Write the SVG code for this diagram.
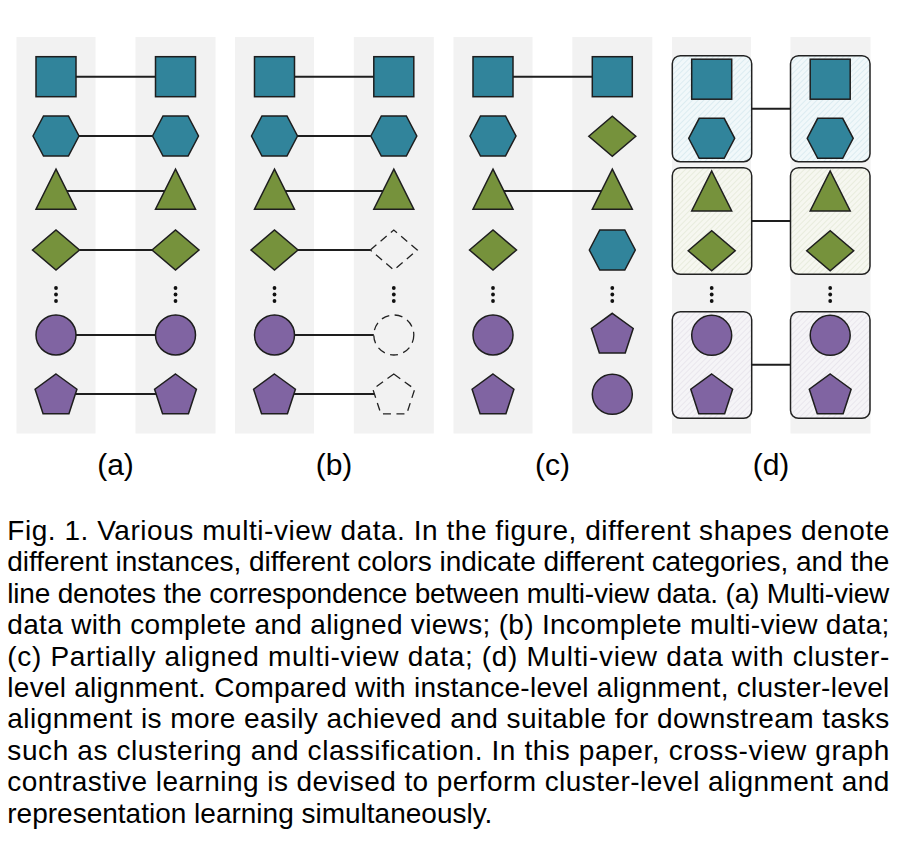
<svg xmlns="http://www.w3.org/2000/svg" xmlns:xlink="http://www.w3.org/1999/xlink" width="919" height="859" viewBox="0 0 919 859">
<style>
.strip{fill:#f2f2f2}
.teal{fill:#31849b;stroke:#1e1e1e;stroke-width:1.5}
.green{fill:#76923c;stroke:#1e1e1e;stroke-width:1.5}
.purple{fill:#8064a2;stroke:#1e1e1e;stroke-width:1.5}
.dash{fill:none;stroke:#222;stroke-width:1.3;stroke-dasharray:8 5.5}
.link{stroke:#1e1e1e;stroke-width:2;fill:none}
.dot{fill:#111}
.box{stroke:#222;stroke-width:1.5}
.lbl{font-family:"Liberation Sans",Arial,sans-serif;font-size:30px;fill:#000;text-anchor:middle}
.cap{font-family:"Liberation Sans",Arial,sans-serif;font-size:28px;fill:#000}
</style>
<defs>
<rect id="sq" x="-20" y="-20" width="40" height="40"/>
<polygon id="hex" points="-23,0 -12.5,-20 12.5,-20 23,0 12.5,20 -12.5,20"/>
<polygon id="tri" points="0,-20 20,20 -20,20"/>
<polygon id="dia" points="-23.5,0 0,-20 23.5,0 0,20"/>
<circle id="cir" r="20"/>
<polygon id="pen" points="0,-22 20.92,-6.8 12.93,17.8 -12.93,17.8 -20.92,-6.8"/>
<g id="dots"><circle cx="0" cy="288" r="1.9"/><circle cx="0" cy="294.5" r="1.9"/><circle cx="0" cy="301" r="1.9"/></g>
<pattern id="hb" patternUnits="userSpaceOnUse" width="4" height="4" patternTransform="rotate(45)"><rect width="4" height="4" fill="#f1f8fa"/><line x1="0" y1="0" x2="0" y2="4" stroke="#d3e7ee" stroke-width="1.4"/></pattern>
<pattern id="hg" patternUnits="userSpaceOnUse" width="4" height="4" patternTransform="rotate(45)"><rect width="4" height="4" fill="#f6f7f0"/><line x1="0" y1="0" x2="0" y2="4" stroke="#e2e8d6" stroke-width="1.4"/></pattern>
<pattern id="hp" patternUnits="userSpaceOnUse" width="4" height="4" patternTransform="rotate(45)"><rect width="4" height="4" fill="#f5f4f7"/><line x1="0" y1="0" x2="0" y2="4" stroke="#e4e0ea" stroke-width="1.4"/></pattern>
</defs>
<rect width="919" height="859" fill="#fff"/>
<g id="strips">
<rect class="strip" x="16.5" y="37" width="79" height="396.5"/>
<rect class="strip" x="135.5" y="37" width="80" height="396.5"/>
<rect class="strip" x="235" y="37" width="79" height="396.5"/>
<rect class="strip" x="353.8" y="37" width="80" height="396.5"/>
<rect class="strip" x="453.5" y="37" width="79" height="396.5"/>
<rect class="strip" x="572.3" y="37" width="80" height="396.5"/>
<rect class="strip" x="672" y="37" width="79" height="396.5"/>
<rect class="strip" x="790.5" y="37" width="80" height="396.5"/>
</g>
<g id="d-boxes">
<rect id="d-box-l1" class="box" x="672.3" y="55.7" width="79.4" height="106" rx="8" fill="url(#hb)"/>
<rect id="d-box-r1" class="box" x="790.5" y="55.7" width="79.5" height="106" rx="8" fill="url(#hb)"/>
<rect id="d-box-l2" class="box" x="672.3" y="167.7" width="79.4" height="106.6" rx="8" fill="url(#hg)"/>
<rect id="d-box-r2" class="box" x="790.5" y="167.7" width="79.5" height="106.6" rx="8" fill="url(#hg)"/>
<rect id="d-box-l3" class="box" x="672.3" y="311.7" width="79.4" height="106.6" rx="8" fill="url(#hp)"/>
<rect id="d-box-r3" class="box" x="790.5" y="311.7" width="79.5" height="106.6" rx="8" fill="url(#hp)"/>
</g>
<g id="connectors">
<line class="link" x1="76" y1="76.7" x2="155.5" y2="76.7"/>
<line class="link" x1="79" y1="136" x2="152.5" y2="136"/>
<line class="link" x1="66.9" y1="191" x2="164.6" y2="191"/>
<line class="link" x1="79.5" y1="250" x2="152" y2="250"/>
<line class="link" x1="76" y1="335" x2="155.5" y2="335"/>
<line class="link" x1="75.4" y1="394" x2="156.1" y2="394"/>
<line class="link" x1="294.5" y1="76.7" x2="373.8" y2="76.7"/>
<line class="link" x1="297.5" y1="136" x2="370.8" y2="136"/>
<line class="link" x1="285.4" y1="191" x2="382.9" y2="191"/>
<line class="link" x1="298" y1="250" x2="370.3" y2="250"/>
<line class="link" x1="294.5" y1="335" x2="373.8" y2="335"/>
<line class="link" x1="293.9" y1="394" x2="374.4" y2="394"/>
<line class="link" x1="513" y1="76.7" x2="592.3" y2="76.7"/>
<line class="link" x1="503.9" y1="191" x2="601.4" y2="191"/>
<line class="link" x1="751.7" y1="108.7" x2="790.5" y2="108.7"/>
<line class="link" x1="751.7" y1="221" x2="790.5" y2="221"/>
<line class="link" x1="751.7" y1="364.7" x2="790.5" y2="364.7"/>
</g>
<g id="panel-a">
<use id="a-l-sq" href="#sq" x="56" y="76.7" class="teal"/>
<use id="a-l-hex" href="#hex" x="56" y="136" class="teal"/>
<use id="a-l-tri" href="#tri" x="56" y="189.2" class="green"/>
<use id="a-l-dia" href="#dia" x="56" y="250" class="green"/>
<use id="a-l-dots" href="#dots" x="56" y="0" class="dot"/>
<use id="a-l-cir" href="#cir" x="56" y="335" class="purple"/>
<use id="a-l-pen" href="#pen" x="56" y="396" class="purple"/>
<use id="a-r-sq" href="#sq" x="175.5" y="76.7" class="teal"/>
<use id="a-r-hex" href="#hex" x="175.5" y="136" class="teal"/>
<use id="a-r-tri" href="#tri" x="175.5" y="189.2" class="green"/>
<use id="a-r-dia" href="#dia" x="175.5" y="250" class="green"/>
<use id="a-r-dots" href="#dots" x="175.5" y="0" class="dot"/>
<use id="a-r-cir" href="#cir" x="175.5" y="335" class="purple"/>
<use id="a-r-pen" href="#pen" x="175.5" y="396" class="purple"/>
</g>
<g id="panel-b">
<use id="b-l-sq" href="#sq" x="274.5" y="76.7" class="teal"/>
<use id="b-l-hex" href="#hex" x="274.5" y="136" class="teal"/>
<use id="b-l-tri" href="#tri" x="274.5" y="189.2" class="green"/>
<use id="b-l-dia" href="#dia" x="274.5" y="250" class="green"/>
<use id="b-l-dots" href="#dots" x="274.5" y="0" class="dot"/>
<use id="b-l-cir" href="#cir" x="274.5" y="335" class="purple"/>
<use id="b-l-pen" href="#pen" x="274.5" y="396" class="purple"/>
<use id="b-r-sq" href="#sq" x="393.8" y="76.7" class="teal"/>
<use id="b-r-hex" href="#hex" x="393.8" y="136" class="teal"/>
<use id="b-r-tri" href="#tri" x="393.8" y="189.2" class="green"/>
<use id="b-r-dia" href="#dia" x="393.8" y="250" class="dash"/>
<use id="b-r-dots" href="#dots" x="393.8" y="0" class="dot"/>
<use id="b-r-cir" href="#cir" x="393.8" y="335" class="dash"/>
<use id="b-r-pen" href="#pen" x="393.8" y="396" class="dash"/>
</g>
<g id="panel-c">
<use id="c-l-sq" href="#sq" x="493" y="76.7" class="teal"/>
<use id="c-l-hex" href="#hex" x="493" y="136" class="teal"/>
<use id="c-l-tri" href="#tri" x="493" y="189.2" class="green"/>
<use id="c-l-dia" href="#dia" x="493" y="250" class="green"/>
<use id="c-l-dots" href="#dots" x="493" y="0" class="dot"/>
<use id="c-l-cir" href="#cir" x="493" y="335" class="purple"/>
<use id="c-l-pen" href="#pen" x="493" y="396" class="purple"/>
<use id="c-r-sq" href="#sq" x="612.3" y="76.7" class="teal"/>
<use id="c-r-dia" href="#dia" x="612.3" y="136.3" class="green"/>
<use id="c-r-tri" href="#tri" x="612.3" y="189.2" class="green"/>
<use id="c-r-hex" href="#hex" x="612.3" y="250" class="teal"/>
<use id="c-r-dots" href="#dots" x="612.3" y="0" class="dot"/>
<use id="c-r-pen" href="#pen" x="612.3" y="335.3" class="purple"/>
<use id="c-r-cir" href="#cir" x="612.3" y="394.3" class="purple"/>
</g>
<g id="panel-d">
<use id="d-l-sq" href="#sq" x="711.7" y="79.2" class="teal"/>
<use id="d-l-hex" href="#hex" x="711.7" y="138.3" class="teal"/>
<use id="d-l-tri" href="#tri" x="711.7" y="191" class="green"/>
<use id="d-l-dia" href="#dia" x="711.7" y="250.8" class="green"/>
<use id="d-l-dots" href="#dots" x="711.7" y="0" class="dot"/>
<use id="d-l-cir" href="#cir" x="711.7" y="335.3" class="purple"/>
<use id="d-l-pen" href="#pen" x="711.7" y="396" class="purple"/>
<use id="d-r-sq" href="#sq" x="830.2" y="79.2" class="teal"/>
<use id="d-r-hex" href="#hex" x="830.2" y="138.3" class="teal"/>
<use id="d-r-tri" href="#tri" x="830.2" y="191" class="green"/>
<use id="d-r-dia" href="#dia" x="830.2" y="250.8" class="green"/>
<use id="d-r-dots" href="#dots" x="830.2" y="0" class="dot"/>
<use id="d-r-cir" href="#cir" x="830.2" y="335.3" class="purple"/>
<use id="d-r-pen" href="#pen" x="830.2" y="396" class="purple"/>
</g>
<g id="labels">
<text class="lbl" x="115.5" y="475">(a)</text>
<text class="lbl" x="334" y="475">(b)</text>
<text class="lbl" x="552.5" y="475">(c)</text>
<text class="lbl" x="771" y="475">(d)</text>
</g>
<g id="caption" class="cap">
<text x="7.3" y="540" textLength="882" lengthAdjust="spacing">Fig. 1. Various multi-view data. In the figure, different shapes denote</text>
<text x="7.3" y="571.4" textLength="882" lengthAdjust="spacing">different instances, different colors indicate different categories, and the</text>
<text x="7.3" y="602.8" textLength="882" lengthAdjust="spacing">line denotes the correspondence between multi-view data. (a) Multi-view</text>
<text x="7.3" y="634.2" textLength="882" lengthAdjust="spacing">data with complete and aligned views; (b) Incomplete multi-view data;</text>
<text x="7.3" y="665.6" textLength="882" lengthAdjust="spacing">(c) Partially aligned multi-view data; (d) Multi-view data with cluster-</text>
<text x="7.3" y="697" textLength="882" lengthAdjust="spacing">level alignment. Compared with instance-level alignment, cluster-level</text>
<text x="7.3" y="728.4" textLength="882" lengthAdjust="spacing">alignment is more easily achieved and suitable for downstream tasks</text>
<text x="7.3" y="759.8" textLength="882" lengthAdjust="spacing">such as clustering and classification. In this paper, cross-view graph</text>
<text x="7.3" y="791.2" textLength="882" lengthAdjust="spacing">contrastive learning is devised to perform cluster-level alignment and</text>
<text x="7.3" y="822.6">representation learning simultaneously.</text>
</g>
</svg>
